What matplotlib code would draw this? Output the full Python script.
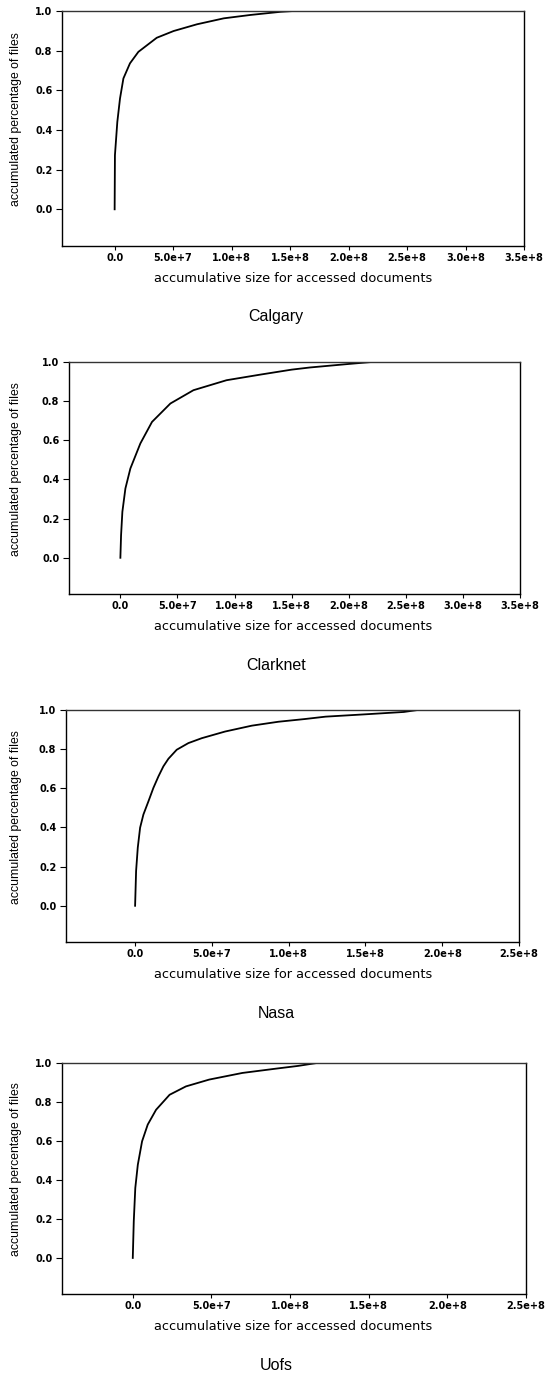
import matplotlib
matplotlib.use("Agg")
import matplotlib.pyplot as plt

W, H = 546, 1375

# ---- data ----
panel_names = ["Calgary", "Clarknet", "Nasa", "Uofs"]

calgary_x = [0, 0.26e6, 2.3e6, 4.6e6, 7.5e6, 1.31e7, 2.03e7, 3.6e7, 5.04e7, 7.04e7,
             9.33e7, 1.16e8, 1.42e8, 1.53e8, 2.0e8, 2.5e8]
calgary_y = [0, 0.273, 0.441, 0.559, 0.66, 0.736, 0.794, 0.865, 0.899, 0.933,
             0.963, 0.98, 0.996, 1.0, 1.0, 1.0]

clarknet_x = [0, 0.6e6, 1.75e6, 4.4e6, 8.75e6, 1.75e7, 2.77e7, 4.38e7, 6.4e7, 9.3e7,
              1.23e8, 1.5e8, 1.66e8, 2.0e8, 2.2e8, 2.6e8]
clarknet_y = [0, 0.115, 0.235, 0.354, 0.456, 0.584, 0.694, 0.788, 0.856, 0.907,
              0.936, 0.961, 0.972, 0.99, 1.0, 1.0]

nasa_x = [0, 0.65e6, 1.74e6, 3.26e6, 5.4e6, 8.7e6, 1.19e7, 1.52e7, 1.84e7, 2.17e7,
          2.71e7, 3.47e7, 4.34e7, 5.86e7, 7.6e7, 9.33e7, 1.107e8, 1.24e8, 1.5e8,
          1.75e8, 1.84e8, 2.16e8]
nasa_y = [0, 0.178, 0.297, 0.399, 0.466, 0.534, 0.602, 0.661, 0.712, 0.751,
          0.797, 0.831, 0.856, 0.89, 0.92, 0.94, 0.954, 0.966, 0.978,
          0.99, 1.0, 1.0]

uofs_x = [0, 0.63e6, 1.6e6, 3.2e6, 5.9e6, 9.5e6, 1.48e7, 2.34e7, 3.38e7, 4.86e7,
          6.97e7, 9.1e7, 1.05e8, 1.17e8, 1.31e8]
uofs_y = [0, 0.188, 0.359, 0.478, 0.598, 0.684, 0.76, 0.837, 0.88, 0.915,
          0.949, 0.971, 0.985, 1.0, 1.0]

xticks_35 = [0, 5e7, 1e8, 1.5e8, 2e8, 2.5e8, 3e8, 3.5e8]
xticklabels_35 = ["0.0", "5.0e+7", "1.0e+8", "1.5e+8", "2.0e+8", "2.5e+8", "3.0e+8", "3.5e+8"]
xticks_25 = [0, 5e7, 1e8, 1.5e8, 2e8, 2.5e8]
xticklabels_25 = ["0.0", "5.0e+7", "1.0e+8", "1.5e+8", "2.0e+8", "2.5e+8"]
yticks = [0.0, 0.2, 0.4, 0.6, 0.8, 1.0]
yticklabels = ["0.0", "0.2", "0.4", "0.6", "0.8", "1.0"]

xlabel_text = "accumulative size for accessed documents"
ylabel_text = "accumulated percentage of files"

# ---- layout (pixel boxes: left, right, top, bottom) ----
boxes = [(62, 524, 11, 246), (69, 520, 362, 594), (66, 519, 710, 942), (62, 526, 1063, 1294)]
xmaxs = [3.5e8, 3.5e8, 2.5e8, 2.5e8]
series = [(calgary_x, calgary_y), (clarknet_x, clarknet_y), (nasa_x, nasa_y), (uofs_x, uofs_y)]
tick_sets = [(xticks_35, xticklabels_35), (xticks_35, xticklabels_35),
             (xticks_25, xticklabels_25), (xticks_25, xticklabels_25)]

fig = plt.figure(figsize=(W / 100, H / 100), dpi=100)
fig.patch.set_facecolor("white")

for (l, r, t, b), name, (xs, ys), (xt, xtl), xmax in zip(boxes, panel_names, series, tick_sets, xmaxs):
    ax = fig.add_axes([l / W, 1 - b / H, (r - l) / W, (b - t) / H])
    ax.plot(xs, ys, color="black", lw=1.3, solid_joinstyle="round")
    ax.set_xlim(-4.5e7, xmax)
    ax.set_ylim(-0.185, 1.0)
    ax.set_xticks(xt)
    ax.set_xticklabels(xtl, fontfamily="DejaVu Sans", fontweight="bold", fontsize=7)
    ax.set_yticks(yticks)
    ax.set_yticklabels(yticklabels, fontfamily="DejaVu Sans", fontweight="bold", fontsize=7)
    ax.tick_params(axis="x", direction="out", length=3, width=0.8, pad=2)
    ax.tick_params(axis="y", direction="out", length=4, width=0.8, pad=3)
    for s in ax.spines.values():
        s.set_linewidth(1.0)
        s.set_color("black")
    ax.spines["top"].set_color("#333333")
    # x label
    fig.text(293 / W, 1 - (b + 32) / H, xlabel_text, ha="center", va="center",
             fontfamily="DejaVu Sans", fontsize=9.3)
    # y label
    fig.text(16 / W, 1 - ((t + b) / 2 - 9) / H, ylabel_text, ha="center", va="center",
             rotation=90, fontfamily="Liberation Sans", fontsize=8.8)
    # caption
    fig.text(276 / W, 1 - (b + 71) / H, name, ha="center", va="center",
             fontfamily="Liberation Sans", fontsize=11.5)

fig.savefig("out.png", dpi=100, facecolor="white")
